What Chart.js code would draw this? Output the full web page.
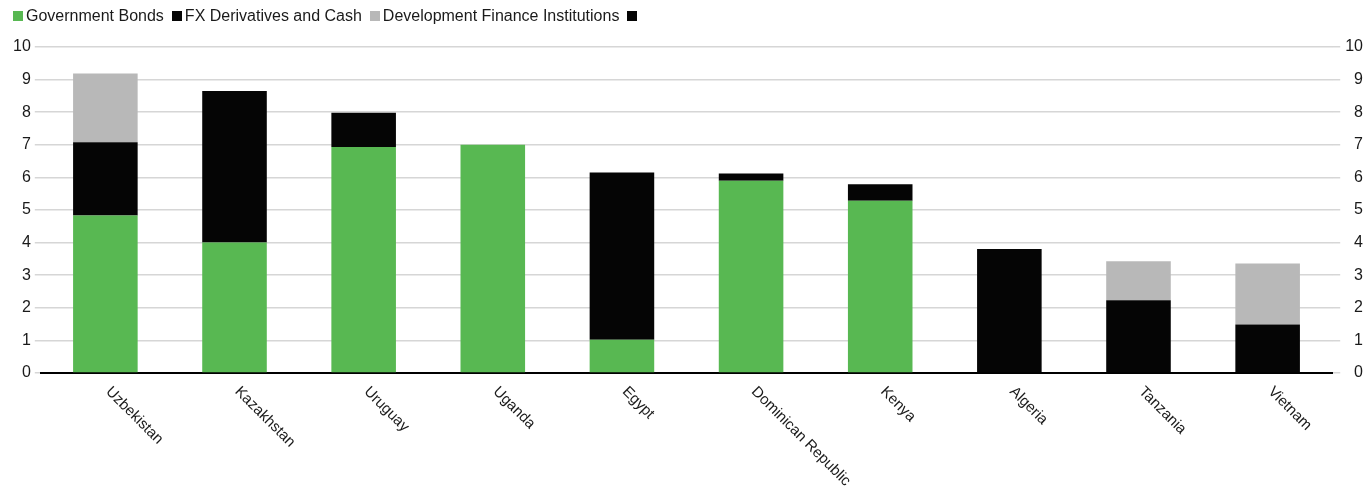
<!DOCTYPE html>
<html>
<head>
<meta charset="utf-8">
<script src="https://cdn.jsdelivr.net/npm/chart.js@4.4.1/dist/chart.umd.min.js"></script>
<style>
  body { margin: 0; background: #fff; }
  #wrap { position: relative; width: 1366px; height: 489px; }
  #legend { position: absolute; left: 13px; top: 7px; display: flex; align-items: center;
    font-family: "Liberation Sans", Arial, sans-serif; font-size: 16px; color: #1a1a1a; }
  #legend span.box { display: inline-block; width: 10px; height: 10px; margin-right: 3px; }
  #legend span.item { display: inline-flex; align-items: center; margin-right: 8px; }
</style>
</head>
<body>
<div id="wrap">
  <div id="legend"></div>
  <canvas id="chart" width="1366" height="489"></canvas>
</div>
<script>
const countries = ['Uzbekistan', 'Kazakhstan', 'Uruguay', 'Uganda', 'Egypt', 'Dominican Republic', 'Kenya', 'Algeria', 'Tanzania', 'Vietnam'];
const govBonds = [4.83, 4.0, 6.93, 7.0, 1.02, 5.9, 5.28, null, null, null];
const fxCash = [2.25, 4.65, 1.05, null, 5.13, 0.22, 0.51, 3.8, 2.23, 1.49];
const dfi = [2.11, null, null, null, null, null, null, null, 1.2, 1.87];
const extra = [null, null, null, null, null, null, null, null, null, null];
const yTicks = [0, 1, 2, 3, 4, 5, 6, 7, 8, 9, 10];

const font = '"Liberation Sans", Arial, sans-serif';

const datasets = [
  { label: 'Government Bonds', data: govBonds, backgroundColor: '#58b852' },
  { label: 'FX Derivatives and Cash', data: fxCash, backgroundColor: '#050505' },
  { label: 'Development Finance Institutions', data: dfi, backgroundColor: '#b8b8b8' },
  { label: '', data: extra, backgroundColor: '#050505' }
];

// html legend
const legend = document.getElementById('legend');
datasets.forEach(ds => {
  const item = document.createElement('span');
  item.className = 'item';
  item.innerHTML = '<span class="box" style="background:' + ds.backgroundColor + '"></span>' + ds.label;
  legend.appendChild(item);
});

// rotated category labels, starting at the tick and running down-right
const xLabels = {
  id: 'xLabels',
  afterDraw(chart) {
    const ctx = chart.ctx;
    const xs = chart.scales.x;
    const y0 = chart.chartArea.bottom + 11;
    ctx.save();
    ctx.font = '15px ' + font;
    ctx.fillStyle = '#1a1a1a';
    ctx.textAlign = 'left';
    ctx.textBaseline = 'top';
    chart.data.labels.forEach((lab, i) => {
      const x = xs.getPixelForValue(i) + 8;
      ctx.save();
      ctx.translate(x, y0);
      ctx.rotate(Math.PI / 4);
      ctx.fillText(lab, 0, 0);
      ctx.restore();
    });
    ctx.restore();
  }
};

new Chart(document.getElementById('chart'), {
  type: 'bar',
  data: { labels: countries, datasets: datasets },
  options: {
    responsive: false,
    animation: false,
    layout: { padding: { left: 9, right: 3, top: 47, bottom: 116 } },
    plugins: { legend: { display: false }, tooltip: { enabled: false } },
    datasets: { bar: { barPercentage: 0.5, categoryPercentage: 1, borderWidth: 0 } },
    scales: {
      x: {
        stacked: true,
        grid: { display: false, drawTicks: false },
        border: { color: '#000', width: 2 },
        ticks: { display: false }
      },
      y: {
        stacked: true,
        min: 0, max: 10,
        afterBuildTicks: s => { s.ticks = yTicks.map(v => ({ value: v })); },
        grid: { color: '#d6d6d6', lineWidth: 1.5, tickLength: 6 },
        border: { display: false },
        ticks: { padding: 4, color: '#1a1a1a', font: { family: font, size: 16 } }
      },
      y2: {
        position: 'right',
        min: 0, max: 10,
        afterBuildTicks: s => { s.ticks = yTicks.map(v => ({ value: v })); },
        grid: { color: '#d6d6d6', lineWidth: 1.5, tickLength: 8, drawOnChartArea: false },
        border: { display: false },
        ticks: { padding: 2.5, crossAlign: 'far', color: '#1a1a1a', font: { family: font, size: 16 } }
      }
    }
  },
  plugins: [xLabels]
});
</script>
</body>
</html>
